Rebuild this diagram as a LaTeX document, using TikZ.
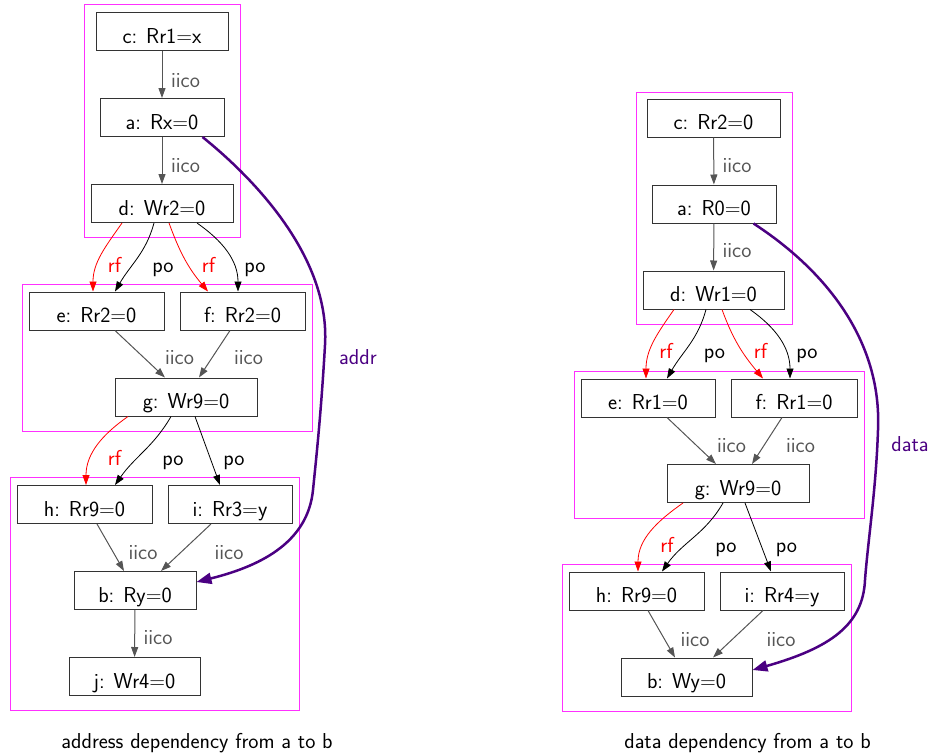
\documentclass[tikz,border=0pt]{standalone}
\usetikzlibrary{arrows.meta}
\definecolor{mag}{HTML}{FF30FF}
\definecolor{ind}{HTML}{4B0082}
\definecolor{icol}{HTML}{555555}
\newcommand{\figfont}{\fontsize{21.6}{26}\selectfont\sffamily}
\begin{document}
\begin{tikzpicture}[x=1pt,y=-1pt,
  ev/.style={draw=black!80, line width=1pt, minimum height=38pt, text height=23pt, text depth=0pt, inner sep=0pt, font=\figfont},
  grp/.style={draw=mag, line width=1pt},
  lbl/.style={anchor=base, inner sep=0pt, font=\figfont},
  ilbl/.style={lbl, text=icol},
  rlbl/.style={lbl, text=red},
  dlbl/.style={lbl, text=ind},
  iicoedge/.style={draw=icol, line width=1pt, -{Triangle[length=10pt,width=7pt]}},
  rfedge/.style={draw=red, line width=0.8pt, -{Triangle[length=10pt,width=7pt]}},
  poedge/.style={draw=black, line width=0.8pt, -{Triangle[length=10pt,width=7pt]}},
  depedge/.style={draw=ind, line width=2.5pt, -{Triangle[length=15pt,width=11pt]}}
]
\useasboundingbox (0,0) rectangle (929,755);

% ---------- left: address dependency ----------
\draw[grp] (84,4) rectangle (240,237);
\draw[grp] (22,284) rectangle (312,431);
\draw[grp] (10,477) rectangle (299,710);

\node[ev, minimum width=132pt] (lc) at (162,31.5) {c: Rr1=x};
\node[ev, minimum width=124pt] (la) at (162,117.5) {a: Rx=0};
\node[ev, minimum width=142pt] (ld) at (162,203.5) {d: Wr2=0};
\node[ev, minimum width=135pt] (le) at (96.5,311) {e: Rr2=0};
\node[ev, minimum width=125pt] (lf) at (242.5,311) {f: Rr2=0};
\node[ev, minimum width=142pt] (lg) at (186,397) {g: Wr9=0};
\node[ev, minimum width=135pt] (lh) at (84.5,504.5) {h: Rr9=0};
\node[ev, minimum width=124pt] (li) at (230,504.5) {i: Rr3=y};
\node[ev, minimum width=122pt] (lb) at (135,590.5) {b: Ry=0};
\node[ev, minimum width=131pt] (lj) at (134.5,676.5) {j: Wr4=0};

\draw[iicoedge] (lc) -- (la);
\draw[iicoedge] (la) -- (ld);
\draw[rfedge] ([xshift=-40pt]ld.south) to[out=-125,in=90] ([xshift=-3.5pt]le.north);
\draw[poedge] ([xshift=-8pt]ld.south) to[out=-105,in=60] ([xshift=18.5pt]le.north);
\draw[rfedge] ([xshift=7pt]ld.south) to[out=-70,in=130] ([xshift=-34.5pt]lf.north);
\draw[poedge] ([xshift=35pt]ld.south) to[out=-35,in=90] ([xshift=-4.5pt]lf.north);
\draw[iicoedge] ([xshift=18.5pt]le.south) -- ([xshift=-21pt]lg.north);
\draw[iicoedge] ([xshift=-12.5pt]lf.south) -- ([xshift=13pt]lg.north);
\draw[rfedge] ([xshift=-58pt]lg.south) to[out=-145,in=90] ([xshift=1.5pt]lh.north);
\draw[poedge] ([xshift=-15pt]lg.south) to[out=-120,in=55] ([xshift=30.5pt]lh.north);
\draw[poedge] ([xshift=9pt]lg.south) -- ([xshift=-10pt]li.north);
\draw[iicoedge] ([xshift=12.5pt]lh.south) -- ([xshift=-11pt]lb.north);
\draw[iicoedge] ([xshift=-19pt]li.south) -- ([xshift=26pt]lb.north);
\draw[iicoedge] (lb) -- (lj);
\draw[depedge] ([xshift=-22pt]la.south east) .. controls (262,185) and (330,262) .. (325,345)
  .. controls (321,415) and (316,460) .. (313,490)
  .. controls (308,540) and (265,565) .. ([yshift=8.5pt]lb.east);

\node[ilbl] (lt1) at (185.5,87) {iico};
\node[ilbl] (lt2) at (185.5,172) {iico};
\node[rlbl] (lt3) at (114.5,272) {rf};
\node[lbl] (lt4) at (163,272) {po};
\node[rlbl] (lt5) at (208.5,272) {rf};
\node[lbl] (lt6) at (255,272) {po};
\node[ilbl] (lt7) at (179.5,364) {iico};
\node[ilbl] (lt8) at (248.5,364) {iico};
\node[rlbl] (lt9) at (114.5,465) {rf};
\node[lbl] (lt10) at (173,465) {po};
\node[lbl] (lt11) at (234,465) {po};
\node[ilbl] (lt12) at (143,559) {iico};
\node[ilbl] (lt13) at (229,559) {iico};
\node[ilbl] (lt14) at (158,644) {iico};
\node[dlbl] (lt15) at (358,364) {addr};
\node[lbl] (lcap) at (197,748) {address dependency from a to b};

% ---------- right: data dependency ----------
\draw[grp] (636,92) rectangle (792,324);
\draw[grp] (574,371) rectangle (864,518);
\draw[grp] (562,564) rectangle (851,711);

\node[ev, minimum width=133pt] (rc) at (713.5,118) {c: Rr2=0};
\node[ev, minimum width=124pt] (ra) at (714,204) {a: R0=0};
\node[ev, minimum width=141pt] (rd) at (713.5,290) {d: Wr1=0};
\node[ev, minimum width=134pt] (re) at (648,398) {e: Rr1=0};
\node[ev, minimum width=126pt] (rf) at (794,398) {f: Rr1=0};
\node[ev, minimum width=142pt] (rg) at (738,483.5) {g: Wr9=0};
\node[ev, minimum width=135pt] (rh) at (636.5,591) {h: Rr9=0};
\node[ev, minimum width=124pt] (ri) at (782,591) {i: Rr4=y};
\node[ev, minimum width=131pt] (rb) at (686.5,677) {b: Wy=0};

\draw[iicoedge] (rc) -- (ra);
\draw[iicoedge] (ra) -- (rd);
\draw[rfedge] ([xshift=-39.5pt]rd.south) to[out=-125,in=90] ([xshift=-2pt]re.north);
\draw[poedge] ([xshift=-7.5pt]rd.south) to[out=-105,in=60] ([xshift=19pt]re.north);
\draw[rfedge] ([xshift=8.5pt]rd.south) to[out=-70,in=130] ([xshift=-31pt]rf.north);
\draw[poedge] ([xshift=36.5pt]rd.south) to[out=-35,in=90] ([xshift=-4pt]rf.north);
\draw[iicoedge] ([xshift=19pt]re.south) -- ([xshift=-22pt]rg.north);
\draw[iicoedge] ([xshift=-12pt]rf.south) -- ([xshift=14pt]rg.north);
\draw[rfedge] ([xshift=-55pt]rg.south) to[out=-145,in=90] ([xshift=1.5pt]rh.north);
\draw[poedge] ([xshift=-15pt]rg.south) to[out=-120,in=55] ([xshift=25.5pt]rh.north);
\draw[poedge] ([xshift=7pt]rg.south) -- ([xshift=-11pt]ri.north);
\draw[iicoedge] ([xshift=11.5pt]rh.south) -- ([xshift=-11.5pt]rb.north);
\draw[iicoedge] ([xshift=-19pt]ri.south) -- ([xshift=26.5pt]rb.north);
\draw[depedge] ([xshift=-23pt]ra.south east) .. controls (825,270) and (882,340) .. (878,430)
  .. controls (876,490) and (868,540) .. (865,580)
  .. controls (863,625) and (830,648) .. ([yshift=7pt]rb.east);

\node[ilbl] (rt1) at (737,172) {iico};
\node[ilbl] (rt2) at (737,257) {iico};
\node[rlbl] (rt3) at (666,358) {rf};
\node[lbl] (rt4) at (714.5,358) {po};
\node[rlbl] (rt5) at (760.5,358) {rf};
\node[lbl] (rt6) at (807,358) {po};
\node[ilbl] (rt7) at (731.5,452) {iico};
\node[ilbl] (rt8) at (800.5,452) {iico};
\node[rlbl] (rt9) at (667,552) {rf};
\node[lbl] (rt10) at (726,552) {po};
\node[lbl] (rt11) at (786.5,552) {po};
\node[ilbl] (rt12) at (695,646) {iico};
\node[ilbl] (rt13) at (781,646) {iico};
\node[dlbl] (rt15) at (910,451) {data};
\node[lbl] (rcap) at (747.5,748) {data dependency from a to b};
\end{tikzpicture}
\end{document}
